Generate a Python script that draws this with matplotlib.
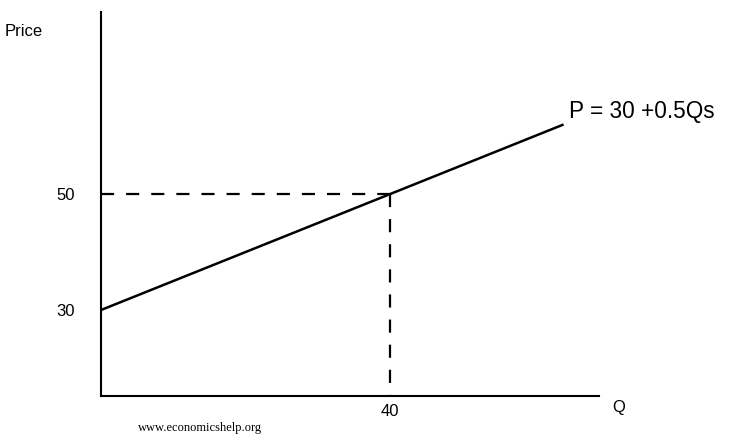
import numpy as np
import matplotlib.pyplot as plt

plt.rcParams['font.family'] = ['Liberation Sans', 'DejaVu Sans']

# supply curve P = 30 + 0.5Q
intercept = 30
slope = 0.5
q_end = 64
q_point = 40
p_point = intercept + slope * q_point
y_ticks = [30, 50]
x_ticks = [40]

fig = plt.figure(figsize=(7.5, 4.48), dpi=100)
ax = fig.add_axes([101 / 750, 52 / 448, 498 / 750, 384 / 448])

q = np.array([0, q_end])
ax.plot(q, intercept + slope * q, color='black', lw=1.8, solid_capstyle='butt')

# dashed guide lines
dash = (0, (5.9, 5.4))
ax.plot([0, q_point], [p_point, p_point], color='black', lw=1.6, ls=dash)
ax.plot([q_point, q_point], [p_point, 15.17], color='black', lw=1.6, ls=dash)

ax.set_xlim(0, 68.9)
ax.set_ylim(15.17, 81.4)

for s in ['top', 'right']:
    ax.spines[s].set_visible(False)
for s in ['left', 'bottom']:
    ax.spines[s].set_linewidth(1.5)

ax.set_xticks(x_ticks)
ax.set_xticklabels([str(v) for v in x_ticks], fontsize=12)
ax.set_yticks(y_ticks)
ax.set_yticklabels([str(v) for v in y_ticks], fontsize=12)
ax.tick_params(axis='x', length=0, pad=6)
ax.tick_params(axis='y', length=0, pad=19)

ax.text(64.8, 64.3, 'P = 30 +0.5Qs', fontsize=16.3, ha='left', va='center')

fig.text(5 / 750, 1 - 32 / 448, 'Price', fontsize=12, ha='left', va='center')
fig.text(612 / 750, 1 - 407 / 448, 'Q', fontsize=12, ha='left', va='center')
fig.text(138 / 750, 1 - 428 / 448, 'www.economicshelp.org', fontsize=9,
         family='Liberation Serif', ha='left', va='center')

plt.savefig('out.png', dpi=100)
